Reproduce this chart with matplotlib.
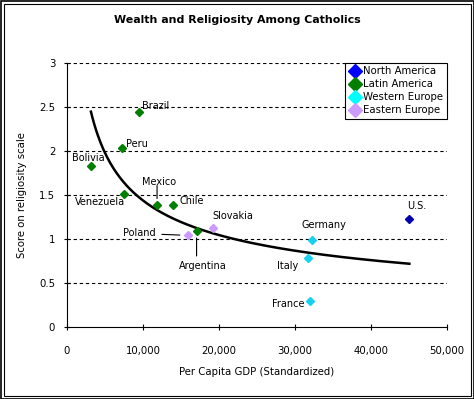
import numpy as np
import matplotlib
matplotlib.use("Agg")
import matplotlib.pyplot as plt
from matplotlib.lines import Line2D
from matplotlib.patches import Rectangle

# data
countries = ["Brazil", "Peru", "Bolivia", "Venezuela", "Mexico", "Chile", "Poland",
             "Argentina", "Slovakia", "Germany", "Italy", "France", "U.S."]
gdp = [9500, 7200, 3150, 7450, 11850, 13950, 15900, 17050, 19200, 32200, 31650, 31950, 45050]
score = [2.44, 2.03, 1.83, 1.51, 1.39, 1.39, 1.04, 1.09, 1.12, 0.99, 0.78, 0.30, 1.23]
region = ["Latin America"] * 6 + ["Eastern Europe", "Latin America", "Eastern Europe",
                                  "Western Europe", "Western Europe", "Western Europe",
                                  "North America"]
regions = ["North America", "Latin America", "Western Europe", "Eastern Europe"]
region_colors = {"North America": "#0000b0", "Latin America": "#007f00",
                 "Western Europe": "#1ad0f0", "Eastern Europe": "#cc99ff"}
legend_colors = ["#0000ff", "#007f00", "#00ffff", "#cc99ff"]

# label offsets in pixels (dx, dy, ha)
label_pos = {
    "Brazil": (3, 6, "left"), "Peru": (4, 4, "left"), "Bolivia": (-3, 8, "center"),
    "Venezuela": (1, -8, "right"), "Mexico": (2, 23, "center"), "Chile": (6, 4, "left"),
    "Poland": (-32, 2, "right"), "Argentina": (6, -35, "center"),
    "Slovakia": (-1, 12, "left"), "Germany": (12, 15, "center"),
    "Italy": (-9, -8, "right"), "France": (-5, -3, "right"), "U.S.": (7, 13, "center"),
}
# leader lines: far end offset in pixels, gap near the point in pixels
leaders = {"Mexico": ((0, 19), 6), "Poland": ((-26, 1), 8), "Argentina": ((0, -25), 7)}

plt.rcParams["font.family"] = "DejaVu Sans"
fig = plt.figure(figsize=(4.74, 3.99), dpi=100)
ax = fig.add_axes([67 / 474, 1 - 327 / 399, 380 / 474, 264.3 / 399])

# power trendline fitted to the points
x = np.array(gdp, dtype=float)
y = np.array(score)
b, lna = np.polyfit(np.log(x), np.log(y), 1)
xs = np.linspace(x.min(), x.max(), 200)
ax.plot(xs, np.exp(lna) * xs ** b, color="black", lw=1.8, zorder=2)

for c, gx, sy, r in zip(countries, gdp, score, region):
    ax.plot(gx, sy, marker="D", ms=4, color=region_colors[r], ls="none", zorder=3)
    dx, dy, ha = label_pos[c]
    ax.annotate(c, (gx, sy), xytext=(dx, dy), textcoords="offset pixels",
                ha=ha, va="center", fontsize=7)
    if c in leaders:
        (x1, y1), gap = leaders[c]
        ax.annotate("", (gx, sy), xytext=(x1, y1), textcoords="offset pixels",
                    arrowprops=dict(arrowstyle="-", color="black", lw=0.8,
                                    shrinkA=0, shrinkB=gap * 0.72))

ax.set_xlim(0, 50000)
ax.set_ylim(0, 3)
ax.set_xticks(range(0, 50001, 10000))
ax.set_xticklabels(["0", "10,000", "20,000", "30,000", "40,000", "50,000"])
ax.set_yticks(np.arange(0, 3.01, 0.5))
ax.set_yticklabels(["0", "0.5", "1", "1.5", "2", "2.5", "3"])
ax.tick_params(labelsize=7.3, length=5, width=0.8, direction="inout")
ax.tick_params(axis="x", pad=11)
ax.tick_params(axis="y", pad=6)
for yv in np.arange(0.5, 3.01, 0.5):
    ax.axhline(yv, color="black", lw=0.8, ls=(0, (3, 2.5)), zorder=1)
for s in ["top", "right"]:
    ax.spines[s].set_visible(False)
ax.set_xlabel("Per Capita GDP (Standardized)", fontsize=7.3, labelpad=8)
ax.set_ylabel("Score on religiosity scale", fontsize=7.3, labelpad=9)

handles = [Line2D([], [], marker="D", ls="none", color=col, ms=7) for col in legend_colors]
leg = ax.legend(handles, regions, loc="upper right", bbox_to_anchor=(1.0, 1.0),
                fontsize=7.3, frameon=True, fancybox=False, framealpha=1,
                handletextpad=0.2, handlelength=1.3, borderpad=0.35, labelspacing=0.3,
                borderaxespad=0)
leg.get_frame().set_edgecolor("black")
leg.get_frame().set_linewidth(0.8)

fig.text(0.5, 1 - 20 / 399, "Wealth and Religiosity Among Catholics", ha="center",
         va="center", fontsize=7.9, fontweight="bold")
# double outer border
fig.patches.append(Rectangle((0.5 / 474, 0.5 / 399), 473 / 474, 398 / 399,
                             transform=fig.transFigure, fill=False, edgecolor="black", lw=1.2))
fig.patches.append(Rectangle((3.5 / 474, 3.5 / 399), 467 / 474, 392 / 399,
                             transform=fig.transFigure, fill=False, edgecolor="black", lw=0.8))

fig.savefig("out.png", dpi=100)
